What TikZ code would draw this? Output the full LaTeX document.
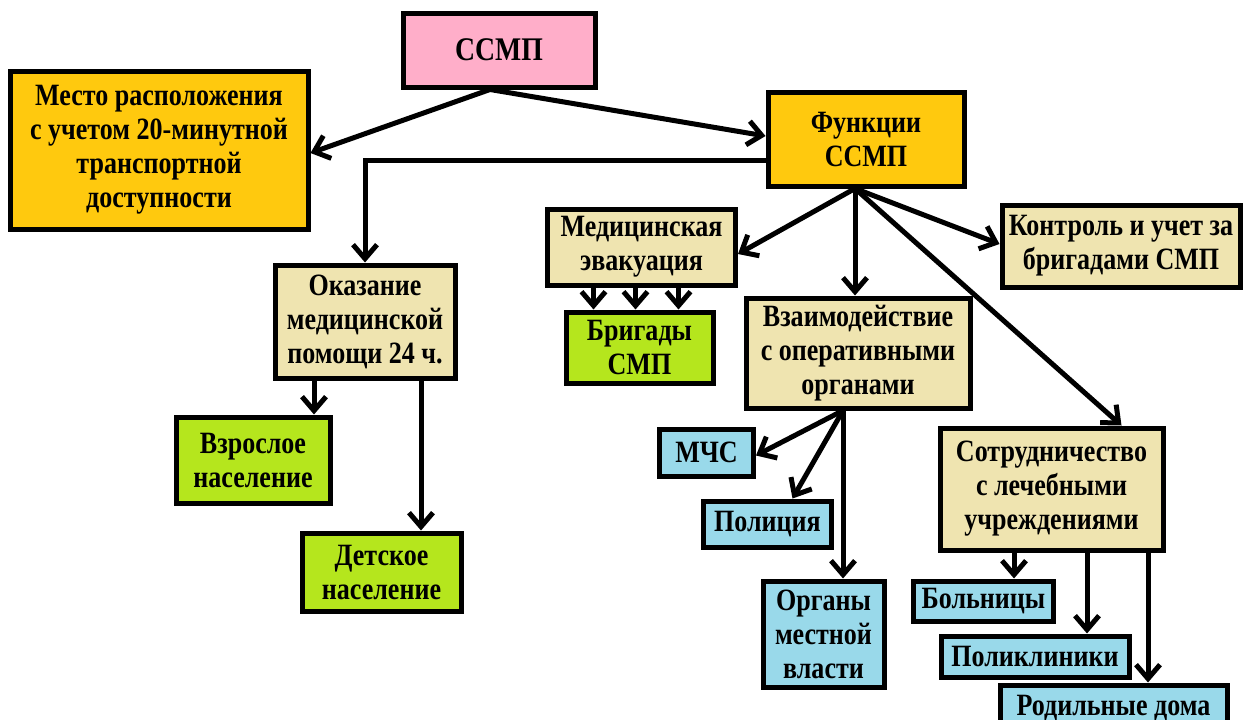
\documentclass[tikz,border=0pt]{standalone}
\usepackage{fontspec}
\setmainfont{Liberation Serif}[FakeStretch=0.84]
\usetikzlibrary{arrows.meta}
\definecolor{pinkfill}{HTML}{FFAEC9}
\definecolor{goldfill}{HTML}{FFC90E}
\definecolor{beigefill}{HTML}{EFE4B0}
\definecolor{greenfill}{HTML}{B5E61D}
\definecolor{bluefill}{HTML}{99D9EA}
\begin{document}
\begin{tikzpicture}[x=1pt,y=-1pt,
  box/.style={draw=black, line width=5pt, align=center, inner sep=0pt,
    font=\bfseries\fontsize{31}{34}\selectfont},
  pinkbox/.style={box, fill=pinkfill},
  goldbox/.style={box, fill=goldfill},
  beigebox/.style={box, fill=beigefill},
  greenbox/.style={box, fill=greenfill},
  bluebox/.style={box, fill=bluefill},
  conn/.style={line width=5pt, -{Straight Barb[length=14pt,width=24pt]}}]
\useasboundingbox (0,0) rectangle (1245,720);
\fill[white] (0,0) rectangle (1245,720);

% top level
\node[pinkbox, minimum width=192pt, minimum height=74pt,
  font=\bfseries\fontsize{33}{36}\selectfont] (ssmp) at (499,50) {ССМП};
\node[goldbox, minimum width=298pt, minimum height=158pt] (mesto) at (159,150)
  {Место расположения\\с учетом 20-минутной\\транспортной\\доступности};
\node[goldbox, minimum width=196pt, minimum height=94pt] (funk) at (866,139)
  {Функции\\ССМП};

% left branch
\node[beigebox, minimum width=180pt, minimum height=113pt] (okaz) at (365,321.5)
  {Оказание\\медицинской\\помощи 24 ч.};
\node[greenbox, minimum width=154pt, minimum height=86pt] (vzr) at (253,460)
  {Взрослое\\население};
\node[greenbox, minimum width=159pt, minimum height=78pt] (det) at (381.5,572)
  {Детское\\население};

% functions
\node[beigebox, minimum width=188pt, minimum height=76pt] (evak) at (641.5,247)
  {Медицинская\\эвакуация};
\node[greenbox, minimum width=147pt, minimum height=71pt] (brig) at (639.5,347.5)
  {Бригады\\СМП};
\node[beigebox, minimum width=238pt, minimum height=82pt] (kontr) at (1121,246)
  {Контроль и учет за\\бригадами СМП};
\node[beigebox, minimum width=224pt, minimum height=110pt] (vzaim) at (858,353)
  {Взаимодействие\\с оперативными\\органами};
\node[beigebox, minimum width=223pt, minimum height=122pt] (sotr) at (1051.5,489)
  {Сотрудничество\\с лечебными\\учреждениями};

% operational bodies
\node[bluebox, minimum width=94pt, minimum height=47pt] (mchs) at (706.5,452.5) {МЧС};
\node[bluebox, minimum width=128pt, minimum height=46pt] (polic) at (767.5,524) {Полиция};
\node[bluebox, minimum width=121pt, minimum height=106pt] (organ) at (823.5,634)
  {Органы\\местной\\власти};

% medical institutions
\node[bluebox, minimum width=140pt, minimum height=40pt] (boln) at (983.5,601) {Больницы};
\node[bluebox, minimum width=188pt, minimum height=41pt] (polik) at (1035,656.5) {Поликлиники};
\node[bluebox, minimum width=227pt, minimum height=70pt, text depth=30pt,
  text height=20pt] (rodil) at (1113.5,720) {Родильные дома};

% connectors from the centre
\draw[conn] ([xshift=-9pt]ssmp.south) -- ([yshift=-3pt]mesto.east);
\draw[conn] ([xshift=-9pt]ssmp.south) -- ([yshift=3pt]funk.west);
\draw[conn] ([yshift=-21pt]funk.west) -| (okaz.north);
\draw[conn] ([xshift=-51pt]okaz.south) -- ([xshift=-51pt]okaz.south |- vzr.north);
\draw[conn] ([xshift=56pt]okaz.south) -- ([xshift=56pt]okaz.south |- det.north);

\draw[conn] ([xshift=-11pt]funk.south) -- ([yshift=-7pt]evak.east);
\draw[conn] ([xshift=-11pt]funk.south) -- ([xshift=-3pt]vzaim.north);
\draw[conn] ([xshift=-11pt]funk.south) -- ([yshift=2pt]kontr.west);
\draw[conn] ([xshift=-11pt]funk.south) -- ([xshift=70pt]sotr.north);

\foreach \dx in {-48,-6,37}
  \draw[conn] ([xshift=\dx pt]evak.south) -- ([xshift=\dx pt]evak.south |- brig.north);

\draw[conn] ([xshift=-15pt]vzaim.south) -- ([yshift=-3pt]mchs.east);
\draw[conn] ([xshift=-15pt]vzaim.south) -- ([xshift=25pt]polic.north);
\draw[conn] ([xshift=-15pt]vzaim.south) -- ([xshift=-15pt]vzaim.south |- organ.north);

\draw[conn] ([xshift=-37.5pt]sotr.south) -- ([xshift=-37.5pt]sotr.south |- boln.north);
\draw[conn] ([xshift=35.5pt]sotr.south) -- ([xshift=35.5pt]sotr.south |- polik.north);
\draw[conn] ([xshift=96.5pt]sotr.south) -- ([xshift=96.5pt]sotr.south |- rodil.north);
\end{tikzpicture}
\end{document}
